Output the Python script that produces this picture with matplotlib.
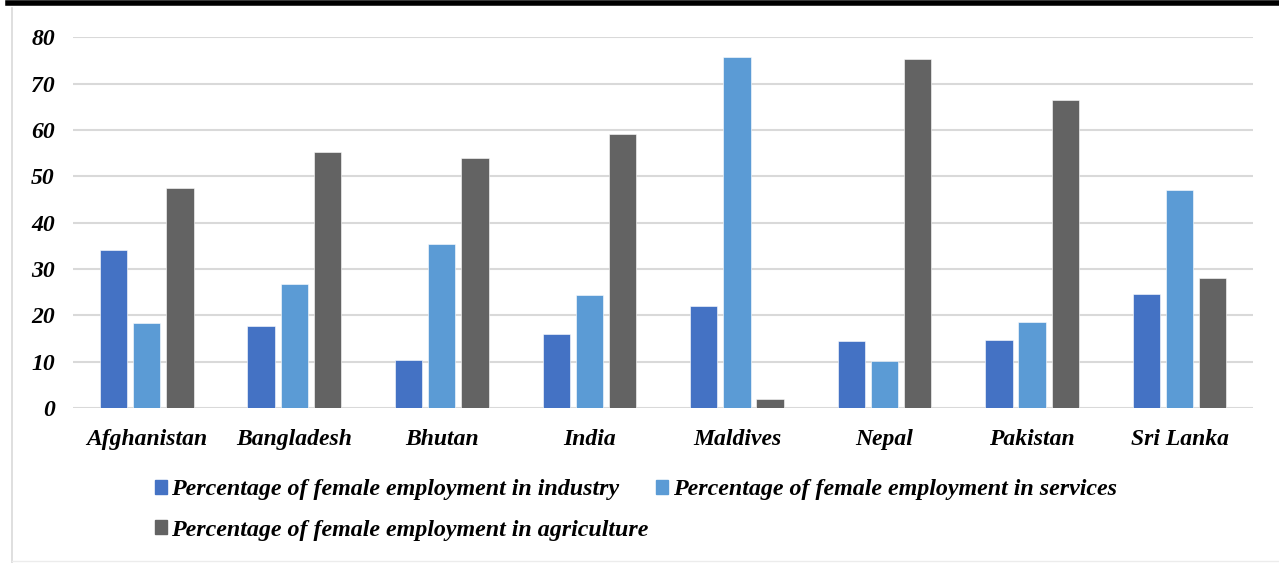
import numpy as np
import matplotlib
matplotlib.use("Agg")
import matplotlib.pyplot as plt
from matplotlib.lines import Line2D
from matplotlib.patches import Patch

# =========================================
# data
# =========================================

countries = ["Afghanistan", "Bangladesh", "Bhutan", "India",
             "Maldives", "Nepal", "Pakistan", "Sri Lanka"]

industry = [34.1, 17.8, 10.3, 16.0, 22.0, 14.4, 14.6, 24.6]
services = [18.3, 26.7, 35.3, 24.5, 75.7, 10.1, 18.6, 47.0]
agriculture = [47.4, 55.2, 53.9, 59.2, 2.0, 75.2, 66.4, 28.0]

labels = ["Percentage of female employment in industry",
          "Percentage of female employment in services",
          "Percentage of female employment in agriculture"]
colors = ["#4472C4", "#5B9BD5", "#636363"]

yticks = [0, 10, 20, 30, 40, 50, 60, 70, 80]

# =========================================
# figure
# =========================================

plt.rcParams['font.family'] = ['Liberation Serif', 'DejaVu Serif']

fig = plt.figure(figsize=(12.79, 5.63), dpi=100)
ax = fig.add_axes([0.057, 0.275, 0.923, 0.659])

x = np.arange(len(countries))
w = 0.185
off = 0.225

for i, (vals, c) in enumerate(zip([industry, services, agriculture], colors)):
    ax.bar(x + (i - 1) * off, vals, width=w, color=c,
           edgecolor="white", linewidth=0.4, zorder=3)

ax.set_xlim(-0.5, len(countries) - 0.5)
ax.set_ylim(0, 80)
ax.set_yticks(yticks)
ax.set_yticklabels([str(t) for t in yticks], fontsize=17,
                   fontweight='bold', fontstyle='italic')
ax.set_xticks(x)
ax.set_xticklabels(countries, fontsize=17,
                   fontweight='bold', fontstyle='italic')

ax.tick_params(axis='both', length=0)
ax.tick_params(axis='y', pad=13)
ax.tick_params(axis='x', pad=15)

ax.grid(axis='y', color='#d9d9d9', linewidth=1.5, zorder=0)
for s in ax.spines.values():
    s.set_visible(False)

# legend, row-wise order
handles = [Patch(color=colors[0]), Patch(color=colors[2]), Patch(color=colors[1])]
leg_labels = [labels[0], labels[2], labels[1]]
fig.legend(handles, leg_labels, loc='upper left',
           bbox_to_anchor=(0.1115, 0.170), ncol=2, frameon=False,
           prop={'size': 17.3, 'weight': 'bold', 'style': 'italic'},
           handlelength=0.5, handleheight=0.5, handletextpad=0.2,
           columnspacing=0.3, labelspacing=0.8, borderpad=0)

# chart frame bits: thick top rule + light border
fig.add_artist(Line2D([0.006, 1.0], [0.9955, 0.9955], color='black',
                      linewidth=4, transform=fig.transFigure))
fig.add_artist(Line2D([0.0095, 0.0095], [0.0, 0.985], color='#d9d9d9',
                      linewidth=1.2, transform=fig.transFigure))
fig.add_artist(Line2D([0.0095, 1.0], [0.003, 0.003], color='#ececec',
                      linewidth=1.0, transform=fig.transFigure))

fig.savefig("out.png", dpi=100)
